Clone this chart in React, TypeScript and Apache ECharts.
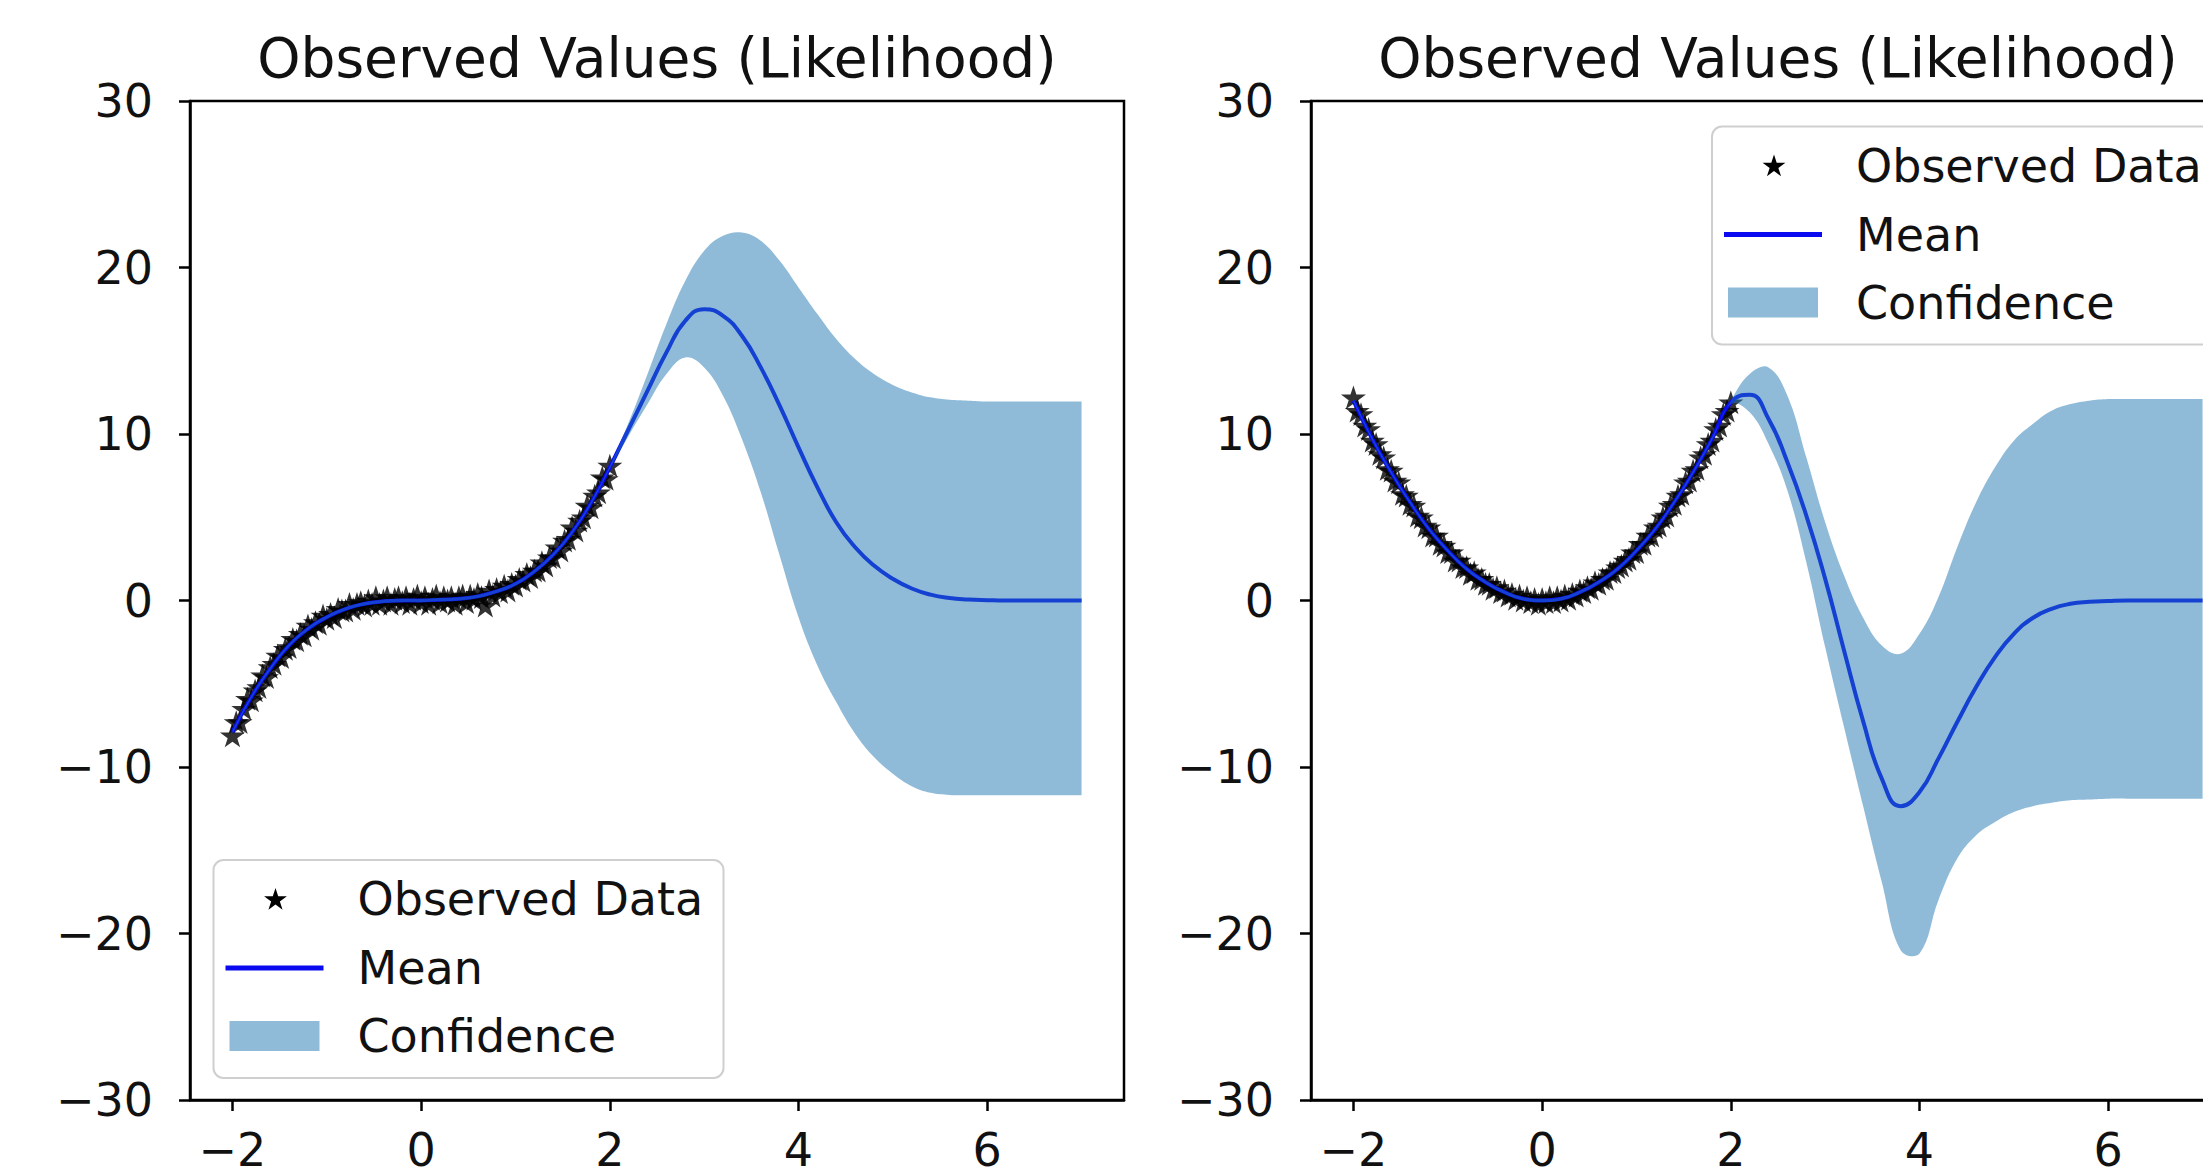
import React, { useEffect, useRef } from "react";
import * as echarts from "echarts";

// ---------- data ----------
const xTicks = [-2, 0, 2, 4, 6];

// x positions of the observed points
const obsX = [
  -2.0, -1.96, -1.92, -1.88, -1.84, -1.8, -1.76, -1.72, -1.68, -1.64, -1.6, -1.56, -1.52, -1.48,
  -1.44, -1.4, -1.36, -1.32, -1.28, -1.24, -1.2, -1.16, -1.12, -1.08, -1.04, -1.0, -0.96, -0.92,
  -0.88, -0.84, -0.8, -0.76, -0.72, -0.68, -0.64, -0.6, -0.56, -0.52, -0.48, -0.44, -0.4, -0.36,
  -0.32, -0.28, -0.24, -0.2, -0.16, -0.12, -0.08, -0.04, 0.0, 0.04, 0.08, 0.12, 0.16, 0.2, 0.24,
  0.28, 0.32, 0.36, 0.4, 0.44, 0.48, 0.52, 0.56, 0.6, 0.64, 0.68, 0.72, 0.76, 0.8, 0.84, 0.88,
  0.92, 0.96, 1.0, 1.04, 1.08, 1.12, 1.16, 1.2, 1.24, 1.28, 1.32, 1.36, 1.4, 1.44, 1.48, 1.52,
  1.56, 1.6, 1.64, 1.68, 1.72, 1.76, 1.8, 1.84, 1.88, 1.92, 1.96, 2.0,
];
const leftObs = [
  -8.1, -7.3, -7.3, -6.5, -5.9, -6.0, -5.4, -5.2, -4.5, -4.6, -4.0, -3.8, -3.3, -3.4,
  -2.9, -2.8, -2.3, -2.4, -2.0, -2.1, -1.5, -1.7, -1.3, -1.4, -0.9, -1.1, -0.8, -1.0,
  -0.5, -0.6, -0.6, -0.2, -0.5, -0.2, -0.1, -0.3, 0.0, -0.2, 0.2, -0.2, 0.0, 0.2,
  -0.2, 0.1, 0.2, -0.1, 0.2, -0.2, 0.1, 0.3, -0.1, 0.2, -0.2, 0.1, 0.3, -0.1, 0.2,
  0.0, 0.2, -0.2, 0.2, 0.3, -0.1, 0.3, 0.1, 0.4, 0.2, -0.3, 0.6, 0.3, 0.7, 0.5, 0.9,
  0.6, 1.0, 0.9, 1.3, 1.2, 1.6, 1.4, 1.8, 1.8, 2.3, 2.1, 2.6, 2.6, 3.2, 3.0, 3.6,
  3.7, 4.4, 4.2, 4.8, 5.0, 5.7, 5.6, 6.3, 6.5, 7.4, 7.3, 8.1,
];
const rightObs = [
  12.2, 11.4, 11.2, 10.5, 10.3, 9.6, 9.4, 8.8, 8.6, 7.9, 7.8, 7.2, 7.1, 6.4,
  6.3, 5.8, 5.7, 5.1, 5.0, 4.5, 4.4, 3.9, 3.9, 3.4, 3.3, 2.9, 2.9, 2.4,
  2.4, 2.0, 2.0, 1.6, 1.7, 1.3, 1.3, 1.0, 1.0, 0.7, 0.8, 0.5, 0.6, 0.3,
  0.4, 0.1, 0.3, 0.0, 0.2, -0.1, 0.1, -0.2, 0.1, -0.1, 0.2, -0.1, 0.2, 0.0, 0.3,
  0.1, 0.4, 0.3, 0.6, 0.5, 0.8, 0.7, 1.1, 1.0, 1.3, 1.3, 1.7, 1.7, 2.0, 2.1, 2.4,
  2.5, 2.9, 2.9, 3.4, 3.4, 3.9, 3.9, 4.4, 4.5, 5.0, 5.1, 5.7, 5.8, 6.3, 6.4, 7.1,
  7.2, 7.8, 7.9, 8.6, 8.8, 9.4, 9.6, 10.3, 10.5, 11.2, 11.4, 11.9,
];

// x positions of the prediction curve
const gridX = [
  -2, -1.8, -1.6, -1.4, -1.2, -1, -0.8, -0.6, -0.4, -0.2, 0, 0.2, 0.4, 0.6, 0.8, 1, 1.2, 1.4,
  1.6, 1.8, 2, 2.2, 2.4, 2.6, 2.8, 3, 3.2, 3.4, 3.6, 3.8, 4, 4.2, 4.4, 4.6, 4.8, 5, 5.2, 5.4,
  5.6, 5.8, 6, 6.2, 6.4, 6.6, 6.8, 7,
];

const leftMean = [
  -7.9, -5.8, -4.1, -2.7, -1.7, -1.0, -0.5, -0.2, -0.05, 0, 0, 0.05, 0.1, 0.25, 0.55, 1.0, 1.75,
  2.75, 4.1, 5.85, 8.0,
  10.3, 12.6, 14.9, 16.8, 17.5, 17.1, 15.9, 14.0, 11.7, 9.2, 6.8, 4.7, 3.2, 2.1, 1.3, 0.72,
  0.35, 0.15, 0.06, 0.02, 0, 0, 0, 0, 0,
];
const leftUpper = [
  -7.8, -5.7, -4.0, -2.6, -1.6, -0.9, -0.4, -0.1, 0.05, 0.1, 0.1, 0.15, 0.2, 0.35, 0.65, 1.1,
  1.85, 2.85, 4.2, 5.95, 8.1,
  10.7, 13.6, 16.6, 19.2, 21.0, 21.9, 22.1, 21.6, 20.4, 18.8, 17.2, 15.7, 14.5, 13.6, 12.95,
  12.5, 12.2, 12.05, 12.0, 11.95, 11.95, 11.95, 11.95, 11.95, 11.95,
];
const leftLower = [
  -8.0, -5.9, -4.2, -2.8, -1.8, -1.1, -0.6, -0.3, -0.15, -0.1, -0.1, -0.05, 0.0, 0.15, 0.45,
  0.9, 1.65, 2.65, 4.0, 5.75, 7.9,
  9.9, 11.8, 13.6, 14.6, 14.0, 12.3, 9.7, 6.5, 2.7, -1.0, -3.9, -6.1, -8.0, -9.4, -10.4,
  -11.15, -11.55, -11.68, -11.7, -11.7, -11.7, -11.7, -11.7, -11.7, -11.7,
];

const rightMean = [
  12.0, 9.7, 7.7, 5.9, 4.3, 3.0, 1.9, 1.1, 0.5, 0.1, 0.0, 0.1, 0.5, 1.1, 1.9, 3.0, 4.3, 5.9,
  7.7, 9.7, 11.9,
  12.35, 10.9, 8.3, 5.1, 1.3, -3.0, -7.2, -10.7, -12.35, -11.5, -9.5, -7.3, -5.2, -3.4, -2.0,
  -1.05, -0.5, -0.2, -0.08, -0.03, 0, 0, 0, 0, 0,
];
const rightUpper = [
  12.1, 9.8, 7.8, 6.0, 4.4, 3.1, 2.0, 1.2, 0.6, 0.2, 0.1, 0.2, 0.6, 1.2, 2.0, 3.1, 4.4, 6.0,
  7.8, 9.8, 12.0,
  13.6, 14.0, 12.3, 8.6, 4.7, 1.5, -1.0, -2.7, -3.2, -2.0, 0.2, 3.2, 5.9, 8.0, 9.6, 10.6,
  11.4, 11.8, 12.0, 12.1, 12.1, 12.1, 12.1, 12.1, 12.1,
];
const rightLower = [
  11.9, 9.6, 7.6, 5.8, 4.2, 2.9, 1.8, 1.0, 0.4, 0.0, -0.1, 0.0, 0.4, 1.0, 1.8, 2.9, 4.2, 5.8,
  7.6, 9.6, 11.8,
  11.3, 9.4, 6.6, 2.3, -2.8, -7.6, -12.3, -16.9, -21.0, -21.2, -18.0, -15.5, -14.1, -13.3,
  -12.7, -12.35, -12.15, -12.0, -11.95, -11.9, -11.9, -11.9, -11.9, -11.9, -11.9,
];

const titles = ["Observed Values (Likelihood)", "Observed Values (Likelihood)"];
const legendNames = ["Observed Data", "Mean", "Confidence"];

// ---------- styling ----------
const FONT = "'DejaVu Sans', 'Noto Sans', sans-serif";
const TEXT = "#111111";
const MEAN_COLOR = "#0a0af0";
const BAND_FILL = "rgba(31,119,180,0.5)";
const STAR =
  "path://M0,-100L22.45,-30.9L95.11,-30.9L36.33,11.8L58.78,80.9L0,38.2L-58.78,80.9L-36.33,11.8L-95.11,-30.9L-22.45,-30.9Z";
const STAR_UNIT = [
  [0, -1], [0.2245, -0.309], [0.9511, -0.309], [0.3633, 0.118], [0.5878, 0.809],
  [0, 0.382], [-0.5878, 0.809], [-0.3633, 0.118], [-0.9511, -0.309], [-0.2245, -0.309],
];

const minusFmt = (v: number) => (v < 0 ? "\u2212" + Math.abs(v) : String(v));
const pairs = (xs: number[], ys: number[]) => xs.map((x, i) => [x, ys[i]]);

function panelSeries(idx: number, obs: number[], mean: number[], lo: number[], hi: number[]) {
  return [
    {
      type: "scatter",
      name: legendNames[0],
      xAxisIndex: idx,
      yAxisIndex: idx,
      data: pairs(obsX, obs),
      symbol: STAR,
      symbolSize: 25,
      symbolKeepAspect: true,
      itemStyle: { color: "#000000" },
      z: 2,
      silent: true,
    },
    {
      type: "line",
      name: legendNames[1],
      xAxisIndex: idx,
      yAxisIndex: idx,
      data: pairs(gridX, mean),
      smooth: true,
      showSymbol: false,
      lineStyle: { color: MEAN_COLOR, width: 4 },
      z: 3,
      silent: true,
    },
    {
      type: "custom",
      name: legendNames[2],
      coordinateSystem: "cartesian2d",
      xAxisIndex: idx,
      yAxisIndex: idx,
      data: [[gridX[0], lo[0]]],
      silent: true,
      z: 4,
      renderItem: (_params: any, api: any) => {
        const top = gridX.map((x, i) => api.coord([x, hi[i]]));
        const bot = gridX.map((x, i) => api.coord([x, lo[i]])).reverse();
        // duplicate end points so that the closing edges stay straight
        const pts = [
          top[0],
          ...top,
          top[top.length - 1],
          bot[0],
          ...bot,
          bot[bot.length - 1],
        ];
        return {
          type: "polygon",
          shape: { points: pts, smooth: 0.4 },
          style: { fill: BAND_FILL },
        };
      },
    },
  ];
}

function legendGraphic(L: number, T: number, W: number) {
  const rows = [T + 39, T + 108, T + 176];
  const R = 12;
  const cx = L + 62;
  return [
    {
      type: "rect",
      shape: { x: L, y: T, width: W, height: 218, r: 10 },
      style: { fill: "rgba(255,255,255,0.8)", stroke: "#cfcfcf", lineWidth: 2 },
      z: 100,
    },
    {
      type: "polygon",
      shape: { points: STAR_UNIT.map(([a, b]) => [cx + a * R, rows[0] + 1 + b * R]) },
      style: { fill: "#000000" },
      z: 101,
    },
    {
      type: "line",
      shape: { x1: L + 12, y1: rows[1], x2: L + 110, y2: rows[1] },
      style: { stroke: MEAN_COLOR, lineWidth: 5 },
      z: 101,
    },
    {
      type: "rect",
      shape: { x: L + 16, y: rows[2] - 15, width: 90, height: 30 },
      style: { fill: BAND_FILL },
      z: 101,
    },
    ...legendNames.map((name, i) => ({
      type: "text",
      x: L + 144,
      y: rows[i],
      style: {
        text: name,
        fontSize: 46,
        fontFamily: FONT,
        fill: TEXT,
        align: "left",
        verticalAlign: "middle",
      },
      z: 102,
    })),
  ];
}

function makeXAxis(idx: number) {
  return {
    gridIndex: idx,
    type: "value",
    min: -2.45,
    max: 7.45,
    splitLine: { show: false },
    axisLine: { show: true, onZero: false, lineStyle: { color: "#000", width: 2.5 } },
    axisTick: {
      show: true,
      length: 11,
      customValues: xTicks,
      lineStyle: { color: "#000", width: 2.5 },
    },
    axisLabel: {
      customValues: xTicks,
      formatter: minusFmt,
      fontSize: 46,
      lineHeight: 30,
      fontFamily: FONT,
      color: TEXT,
      margin: 35,
    },
  };
}

function makeYAxis(idx: number) {
  return {
    gridIndex: idx,
    type: "value",
    min: -30,
    max: 30,
    interval: 10,
    splitLine: { show: false },
    axisLine: { show: true, onZero: false, lineStyle: { color: "#000", width: 2.5 } },
    axisTick: { show: true, length: 11, lineStyle: { color: "#000", width: 2.5 } },
    axisLabel: {
      formatter: minusFmt,
      fontSize: 46,
      lineHeight: 46,
      fontFamily: FONT,
      color: TEXT,
      margin: 37,
    },
  };
}

export default function App() {
  const ref = useRef<HTMLDivElement>(null);

  useEffect(() => {
    if (!ref.current) return;
    const chart = echarts.init(ref.current, undefined, { renderer: "svg" });
    const gridBase = {
      top: 101,
      width: 934,
      height: 999,
      show: true,
      borderColor: "#000",
      borderWidth: 2.5,
      backgroundColor: "rgba(0,0,0,0)",
    };
    const titleStyle = {
      fontSize: 55,
      lineHeight: 55,
      fontWeight: "normal",
      fontFamily: FONT,
      color: TEXT,
    };
    chart.setOption({
      animation: false,
      backgroundColor: "#ffffff",
      title: [
        { text: titles[0], left: 657, top: 30, textAlign: "center", padding: 0, textStyle: titleStyle },
        { text: titles[1], left: 1778, top: 30, textAlign: "center", padding: 0, textStyle: titleStyle },
      ],
      grid: [
        { ...gridBase, left: 190 },
        { ...gridBase, left: 1311 },
      ],
      xAxis: [makeXAxis(0), makeXAxis(1)],
      yAxis: [makeYAxis(0), makeYAxis(1)],
      series: [
        ...panelSeries(0, leftObs, leftMean, leftLower, leftUpper),
        ...panelSeries(1, rightObs, rightMean, rightLower, rightUpper),
      ],
      graphic: [...legendGraphic(213.5, 860, 510), ...legendGraphic(1712, 126.5, 513)],
    });
    return () => chart.dispose();
  }, []);

  return (
    <div
      style={{
        position: "fixed",
        left: 0,
        top: 0,
        width: 2203,
        height: 1176,
        overflow: "hidden",
        background: "#fff",
      }}
    >
      <div ref={ref} style={{ width: 2262, height: 1176 }} />
    </div>
  );
}
